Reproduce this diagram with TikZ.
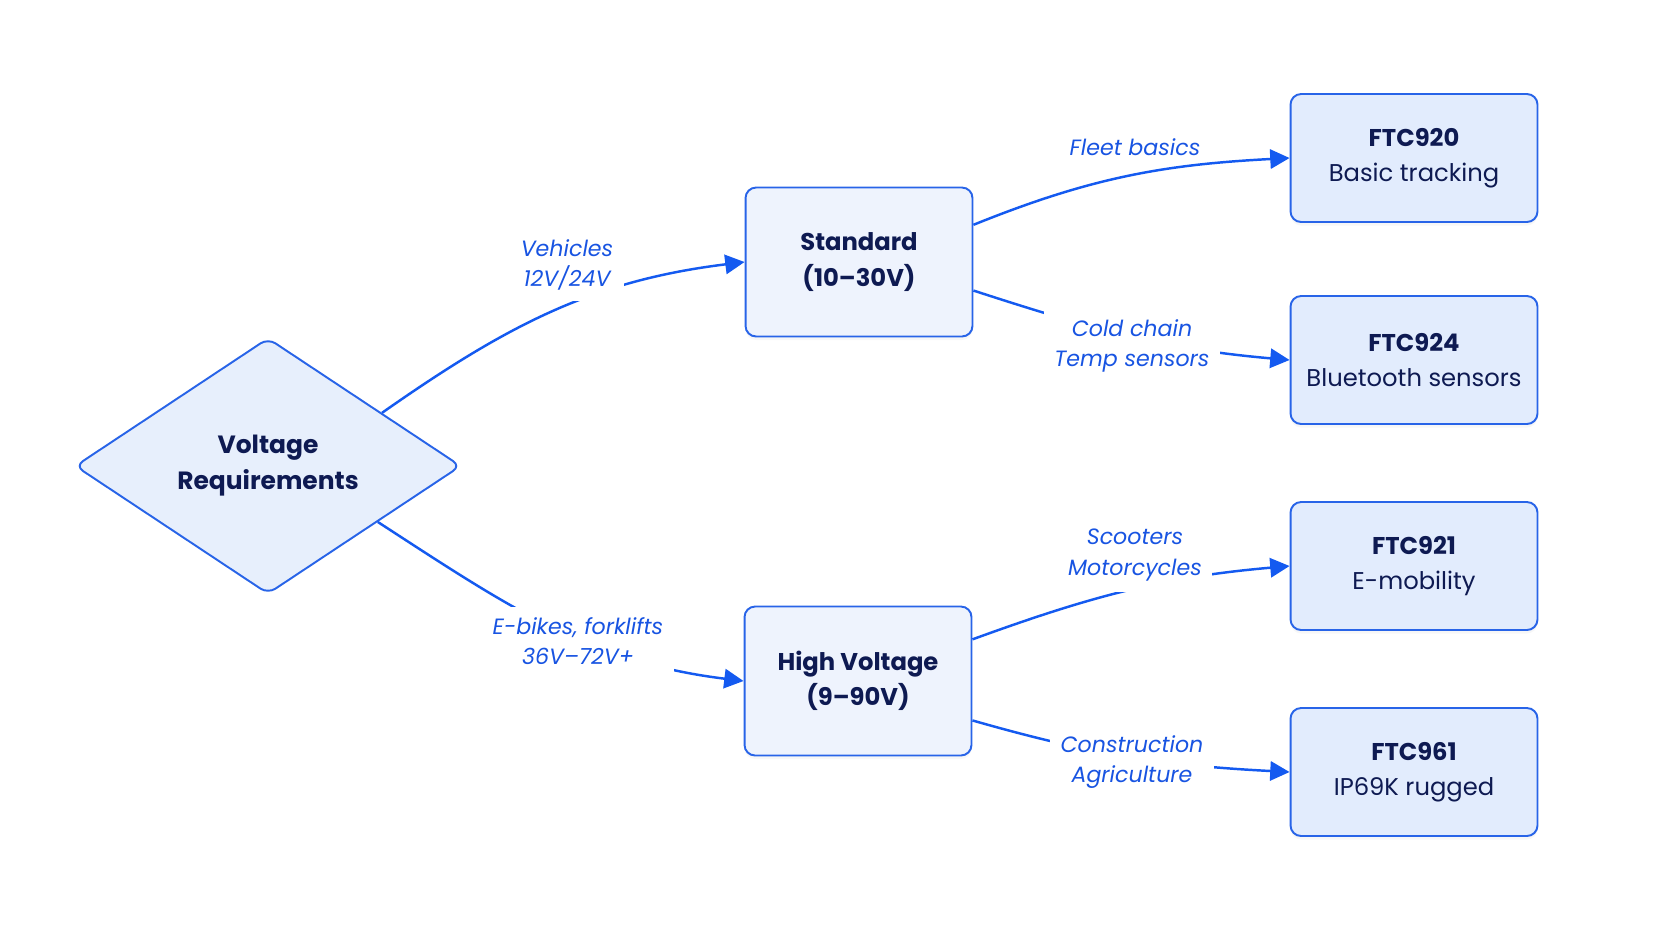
\documentclass[tikz,border=0pt]{standalone}
\usepackage{fontspec}
\setmainfont{Poppins}
\usetikzlibrary{shapes.geometric, arrows.meta, positioning, shadows}
\definecolor{navy}{RGB}{14, 26, 82}
\definecolor{boxline}{RGB}{40, 100, 232}
\definecolor{edgeblue}{RGB}{20, 90, 240}
\definecolor{lblblue}{RGB}{24, 84, 226}
\definecolor{ftcfill}{RGB}{226, 236, 253}
\definecolor{midfill}{RGB}{238, 243, 253}
\definecolor{decfill}{RGB}{231, 239, 252}

\begin{document}
\begin{tikzpicture}[x=0.02cm, y=-0.02cm,
  bx/.style={draw=boxline, line width=1.1pt, rounded corners=6pt, align=center, text=navy, inner sep=0pt,
    font=\fontsize{13.8}{20}\selectfont, drop shadow={opacity=0.06, shadow xshift=0pt, shadow yshift=-2pt}},
  ftc/.style={bx, fill=ftcfill, minimum width=4.94cm, minimum height=2.56cm},
  mid/.style={bx, fill=midfill, minimum width=4.54cm, minimum height=2.98cm},
  lbl/.style={fill=white, text=lblblue, align=center, inner sep=6pt, font=\itshape\fontsize{12.6}{17.5}\selectfont},
  edge/.style={draw=edgeblue, line width=1.4pt, -{Triangle[length=11pt, width=11pt]}}
]
  \useasboundingbox[fill=white] (0,0) rectangle (1672,941);

  % Decision
  \node[draw=boxline, line width=1.1pt, fill=decfill, shape=diamond, rounded corners=5pt, minimum width=7.72cm, minimum height=5.12cm, inner sep=0pt,
    align=center, text=navy, font=\bfseries\fontsize{14.2}{20.5}\selectfont] (vreq) at (268, 466) {Voltage\\Requirements};

  % Voltage ranges
  \node[mid] (std) at (859, 262) {\textbf{Standard}\\\textbf{(10–30V)}};
  \node[mid] (hv) at (858, 681) {\textbf{High Voltage}\\\textbf{(9–90V)}};

  % Products
  \node[ftc] (f920) at (1414, 158) {\textbf{FTC920}\\Basic tracking};
  \node[ftc] (f924) at (1414, 360) {\textbf{FTC924}\\Bluetooth sensors};
  \node[ftc] (f921) at (1414, 566) {\textbf{FTC921}\\E-mobility};
  \node[ftc] (f961) at (1414, 772) {\textbf{FTC961}\\IP69K rugged};

  \draw[edge] (vreq.25) to[out=35, in=187] (std.west);
  \draw[edge] (vreq.-27) to[out=-33, in=173] (hv.west);
  \draw[edge] (std.18) to[out=22, in=183] (f920.west);
  \draw[edge] (std.-14) to[out=-18, in=175] (f924.west);
  \draw[edge] (hv.20) to[out=20, in=185] (f921.west);
  \draw[edge] (hv.-19) to[out=-16, in=177] (f961.west);

  % Labels
  \node[lbl] (lveh) at (567, 265) {Vehicles\\12V/24V};
  \node[lbl] (lebk) at (578, 641) {E-bikes, forklifts\\36V–72V+};
  \node[lbl, fill=none] (lflt) at (1135, 147) {Fleet basics};
  \node[lbl] (lcold) at (1132, 346) {Cold chain\\Temp sensors};
  \node[lbl] (lscoot) at (1135, 555) {Scooters\\Motorcycles};
  \node[lbl] (lcons) at (1132, 762) {Construction\\Agriculture};
\end{tikzpicture}
\end{document}
